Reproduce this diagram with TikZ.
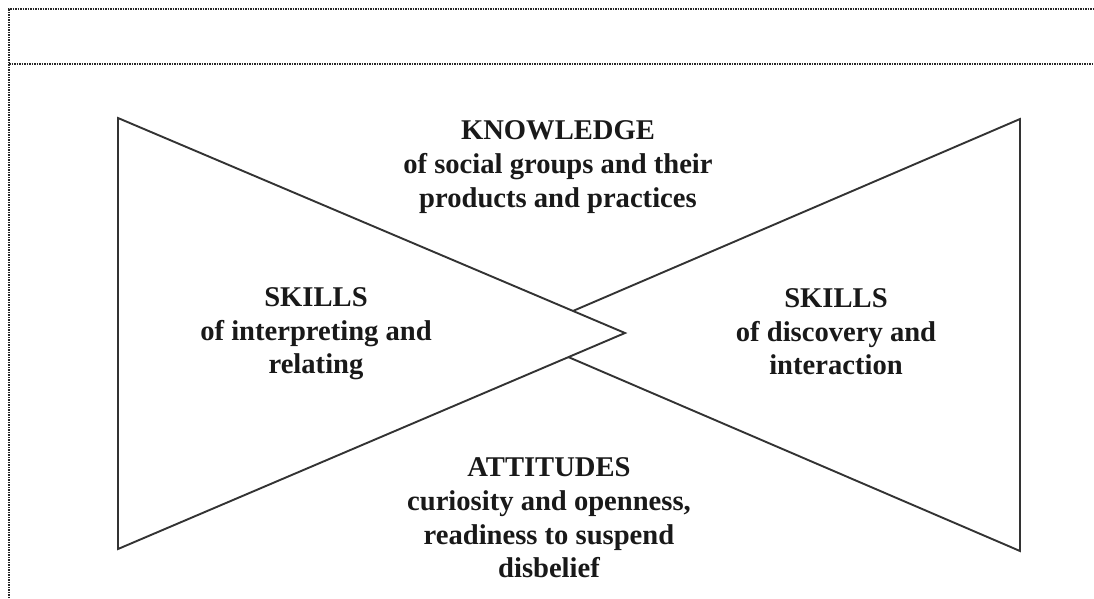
\documentclass[tikz,border=0pt]{standalone}
\usepackage{fontspec}
\setmainfont{Liberation Serif}
\begin{document}
\begin{tikzpicture}[x=1pt,y=-1pt,
    dotline/.style={densely dotted, line width=1.5pt, black!85},
    tri/.style={line width=1.9pt, black!80, line join=miter},
    lbl/.style={draw=none, align=center, inner sep=0pt, text=black!90,
      font=\fontsize{28.6}{33.6}\selectfont\bfseries}]
    \useasboundingbox (0,0) rectangle (1094,598);

    % dotted header frame
    \draw [dotline] (9,598) -- (9,9) -- (1094,9);
    \draw [dotline] (9,64) -- (1094,64);

    % right triangle - drawn first, the left one covers its tip
    \draw [tri] (1020,119) -- (1020,551) -- (517,335) -- cycle;

    % left triangle
    \draw [tri, fill=white] (118,118) -- (118,549) -- (625,333) -- cycle;

    % labels
    \node [lbl, name=knowledge] at (558,167) {KNOWLEDGE\\of social groups and their\\products and practices};
    \node [lbl, name=skillsint] at (316,334) {SKILLS\\of interpreting and\\relating};
    \node [lbl, name=skillsdis] at (836,332) {SKILLS\\of discovery and\\interaction};
    \node [lbl, name=attitudes] at (549,518) {ATTITUDES\\curiosity and openness,\\readiness to suspend\\disbelief};
  \end{tikzpicture}
\end{document}
